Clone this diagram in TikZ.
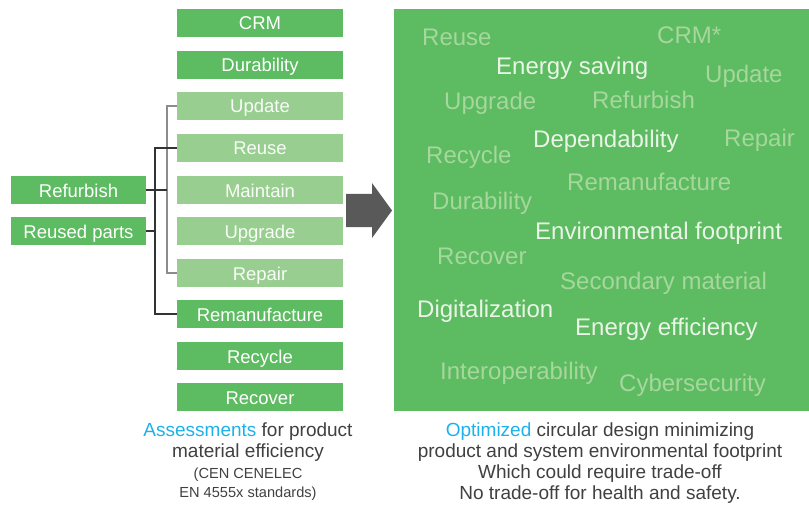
\documentclass[tikz,border=0pt]{standalone}
\usepackage{fontspec}
\setmainfont{Liberation Sans}
\usepackage{tikz}
\definecolor{dkgreen}{HTML}{5DBB61}
\definecolor{ltgreen}{HTML}{98CE8F}
\definecolor{fade}{HTML}{A6D79D}
\definecolor{bright}{HTML}{EAF5E7}
\definecolor{ink}{HTML}{404040}
\definecolor{sky}{HTML}{1CB1EC}
\definecolor{arrowgray}{HTML}{595959}
\tikzstyle{box}=[rectangle, inner sep=0pt, minimum width=166pt, minimum height=28pt, fill=dkgreen, text=white, text height=14pt, text depth=0pt, font=\fontsize{18.5}{19}\selectfont]
\tikzstyle{lbox}=[box, fill=ltgreen, text=white!95!ltgreen]
\tikzstyle{sbox}=[box, minimum width=135pt]
\tikzstyle{dk}=[draw=black!80, line width=1.3pt]
\tikzstyle{gr}=[draw=black!45, line width=1.3pt]
\tikzstyle{panel}=[rectangle, inner sep=0pt, fill=dkgreen, minimum width=415pt, minimum height=402pt]
\tikzstyle{w}=[anchor=base west, inner sep=0pt, text=fade, font=\fontsize{24}{24}\selectfont]
\tikzstyle{wb}=[w, text=bright]
\tikzstyle{caption}=[align=center, text=ink, font=\fontsize{19}{21}\selectfont]
\tikzstyle{captionsmall}=[align=center, text=ink, font=\fontsize{14.6}{19}\selectfont]

\begin{document}
\begin{tikzpicture}[x=1pt, y=-1pt]
	\useasboundingbox (0,0) rectangle (809,508);
	% column of assessments
	\draw (260,23) node[box] (b1) {CRM};
	\draw (260,65) node[box] (b2) {Durability};
	\draw (260,106) node[lbox] (b3) {Update};
	\draw (260,148) node[lbox] (b4) {Reuse};
	\draw (260,190) node[lbox] (b5) {Maintain};
	\draw (260,231) node[lbox] (b6) {Upgrade};
	\draw (260,273) node[lbox] (b7) {Repair};
	\draw (260,314) node[box] (b8) {Remanufacture};
	\draw (260,356) node[box] (b9) {Recycle};
	\draw (260,397) node[box] (b10) {Recover};
	\draw (78.5,190) node[sbox] (l1) {Refurbish};
	\draw (78.5,231) node[sbox] (l2) {Reused parts};
	% brackets
	\coordinate (dkx) at (155,0);
	\coordinate (grx) at (167,0);
	\draw[gr] (b3.west) -- (b3.west -| grx) |- (b7.west);
	\draw[dk] (l1.east) -- (l1.east -| grx);
	\draw[dk] (b4.west) -- (b4.west -| dkx) |- (b8.west);
	\draw[dk] (l2.east) -- (l2.east -| dkx);
	% big arrow
	\fill[arrowgray] (346,194) -- (372,194) -- (372,183) -- (392,210.5) -- (372,238) -- (372,227) -- (346,227) -- cycle;
	% word panel
	\draw (601.5,210) node[panel] (panel) {};
	\draw (422,46) node[w] (w1) {Reuse};
	\draw (657,44) node[w] (w2) {CRM*};
	\draw (496,75) node[wb] (w3) {Energy saving};
	\draw (705,83) node[w] (w4) {Update};
	\draw (444,110) node[w] (w5) {Upgrade};
	\draw (592,109) node[w] (w6) {Refurbish};
	\draw (533,148) node[wb] (w7) {Dependability};
	\draw (724,147) node[w] (w8) {Repair};
	\draw (426,164) node[w] (w9) {Recycle};
	\draw (567,190) node[w] (w10) {Remanufacture};
	\draw (432,210) node[w] (w11) {Durability};
	\draw (535,239) node[wb] (w12) {Environmental footprint};
	\draw (437,264) node[w] (w13) {Recover};
	\draw (560,289) node[w] (w14) {Secondary material};
	\draw (417,317) node[wb] (w15) {Digitalization};
	\draw (575,335) node[wb] (w16) {Energy efficiency};
	\draw (440,379) node[w] (w17) {Interoperability};
	\draw (619,391) node[w] (w18) {Cybersecurity};
	% captions
	\draw (248,442.5) node[caption] (c1) {\textcolor{sky}{Assessments} for product\\material efficiency};
	\draw (248,484) node[captionsmall] (c2) {(CEN CENELEC\\EN 4555x standards)};
	\draw (600,463.5) node[caption] (c3) {\textcolor{sky}{Optimized} circular design minimizing\\product and system environmental footprint\\Which could require trade-off\\No trade-off for health and safety.};
\end{tikzpicture}
\end{document}
